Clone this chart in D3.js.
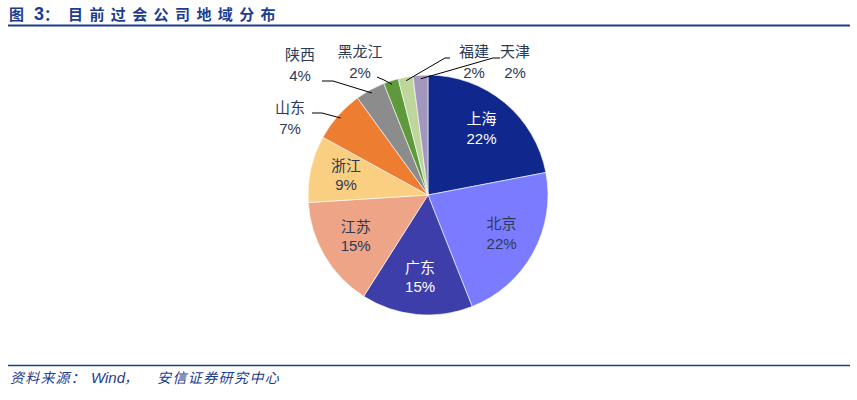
<!DOCTYPE html>
<html lang="zh">
<head>
<meta charset="utf-8" />
<title>目前过会公司地域分布</title>
<style>
  body { margin: 0; background: #fff; }
  svg { display: block; font-family: "Liberation Sans", Arial, "Noto Sans CJK SC", sans-serif; }
</style>
</head>
<body>
<svg width="857" height="400"></svg>
<script src="https://d3js.org/d3.v7.min.js"></script>
<script>
  // data
  const regions = ["上海", "北京", "广东", "江苏", "浙江", "山东", "陕西", "黑龙江", "福建", "天津"];
  const shares  = [22, 22, 15, 15, 9, 7, 4, 2, 2, 2];
  const colors  = ["#10288e", "#7b7bff", "#3e3eab", "#eda487", "#fbcf82", "#ed7d31", "#8c8c8c", "#5e9a3c", "#bed69b", "#a497be"];
  const inside  = [true, true, true, true, true, false, false, false, false, false];
  const textCol = ["#fff", "#2b3a55", "#fff", "#2b3a55", "#2b3a55"];

  // where the outside labels sit (label centre + elbow of the leader line)
  const outLabels = {
    "山东":  {x: 290, y: 108, elbow: [[322, 113], [312, 113]]},
    "陕西":  {x: 300, y: 55,  elbow: [[333, 81], [322, 81]]},
    "黑龙江": {x: 360, y: 52,  elbow: [[384, 80], [377, 77]]},
    "福建":  {x: 474, y: 52,  elbow: [[445, 58], [450, 58]]},
    "天津":  {x: 515, y: 52,  elbow: [[493, 58], [500, 58]]}
  };

  const svg = d3.select("svg");
  const blue = "#1c3c8f";
  const cjk = "'Noto Sans CJK SC', sans-serif";

  // title
  const title = svg.append("text")
    .attr("y", 20)
    .attr("fill", blue)
    .attr("font-weight", "bold")
    .attr("font-family", cjk);
  title.append("tspan").attr("x", 9).attr("font-size", 15).text("图");
  title.append("tspan").attr("x", 34).attr("font-size", 18).attr("font-family", "'Liberation Sans', Arial, sans-serif").text("3");
  title.append("tspan").attr("x", 44).attr("font-size", 15).text("：");
  title.append("tspan").attr("x", 68).attr("font-size", 15).attr("letter-spacing", 6.4).text("目前过会公司地域分布");
  svg.append("line")
    .attr("x1", 8).attr("x2", 850).attr("y1", 25.5).attr("y2", 25.5)
    .attr("stroke", blue).attr("stroke-width", 2);

  // footer
  svg.append("line")
    .attr("x1", 8).attr("x2", 850).attr("y1", 365.5).attr("y2", 365.5)
    .attr("stroke", blue).attr("stroke-width", 1.5);
  const foot = svg.append("text")
    .attr("y", 383)
    .attr("fill", blue)
    .attr("font-size", 14).attr("font-style", "italic")
    .attr("font-family", cjk);
  foot.append("tspan").attr("x", 10).attr("letter-spacing", 1.2).text("资料来源：");
  foot.append("tspan").attr("x", 91).attr("font-family", "'Liberation Sans', Arial, sans-serif").attr("font-size", 15).text("Wind");
  foot.append("tspan").attr("x", 124).text("，");
  foot.append("tspan").attr("x", 157).attr("letter-spacing", 1.4).text("安信证券研究中心");

  // pie
  const cx = 428, cy = 195, r = 120;
  const data = regions.map((name, i) => ({name, value: shares[i], color: colors[i], inside: inside[i], tc: textCol[i]}));
  const pie = d3.pie().value(d => d.value).sort(null);
  const arc = d3.arc().innerRadius(0).outerRadius(r);
  const labelArc = d3.arc().innerRadius(r * 0.7).outerRadius(r * 0.7);
  const edgeArc = d3.arc().innerRadius(r * 0.97).outerRadius(r * 0.97);
  const arcs = pie(data);

  const g = svg.append("g").attr("transform", `translate(${cx},${cy})`);

  g.selectAll("path.slice").data(arcs).join("path")
    .attr("class", "slice")
    .attr("d", arc)
    .attr("fill", d => d.data.color)
    .attr("stroke", "#fff").attr("stroke-width", 0.6);

  // inside labels
  const inl = g.selectAll("text.in").data(arcs.filter(d => d.data.inside)).join("text")
    .attr("class", "in")
    .attr("text-anchor", "middle")
    .attr("font-size", 15)
    .attr("fill", d => d.data.tc)
    .attr("transform", d => `translate(${labelArc.centroid(d)})`);
  inl.append("tspan").attr("x", 0).attr("dy", "-0.4em").text(d => d.data.name);
  inl.append("tspan").attr("x", 0).attr("dy", "1.3em").text(d => d.data.value + "%");

  // outside labels with leader lines
  const outs = arcs.filter(d => !d.data.inside);
  const gl = svg.append("g");
  outs.forEach(d => {
    const o = outLabels[d.data.name];
    const p = edgeArc.centroid(d);
    const pts = [[p[0] + cx, p[1] + cy]].concat(o.elbow);
    gl.append("path")
      .attr("d", d3.line()(pts))
      .attr("fill", "none").attr("stroke", "#000").attr("stroke-width", 1);
    const t = gl.append("text")
      .attr("text-anchor", "middle")
      .attr("font-size", 15)
      .attr("fill", "#2b3a55")
      .attr("transform", `translate(${o.x},${o.y})`);
    t.append("tspan").attr("x", 0).attr("dy", "0.35em").text(d.data.name);
    t.append("tspan").attr("x", 0).attr("dy", "1.35em").text(d.data.value + "%");
  });
</script>
</body>
</html>
